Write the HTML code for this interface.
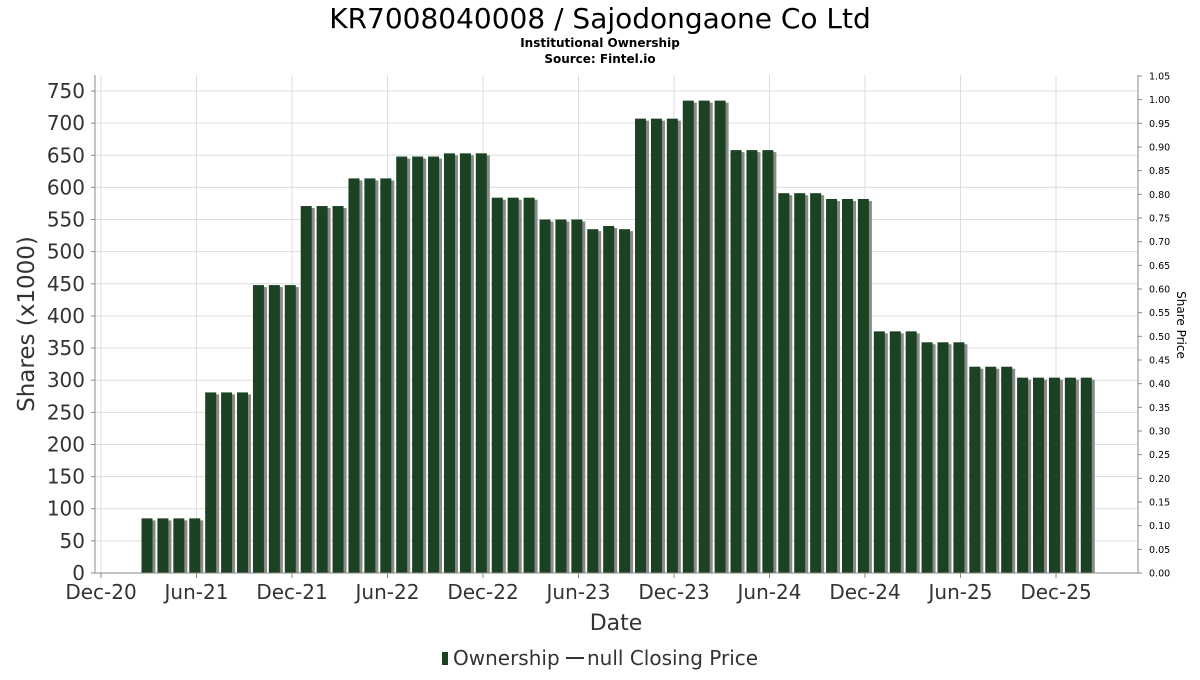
<!DOCTYPE html>
<html><head><meta charset="utf-8"><style>
body{margin:0;background:#fff;}
svg text{font-family:"DejaVu Sans","Liberation Sans",sans-serif;}
</style></head><body>
<svg id="chart" width="1200" height="675" viewBox="0 0 1200 675" xmlns="http://www.w3.org/2000/svg">
<text x="600" y="28" text-anchor="middle" font-size="28" fill="#000">KR7008040008 / Sajodongaone Co Ltd</text>
<text x="600" y="47" text-anchor="middle" font-size="12" font-weight="bold" fill="#000">Institutional Ownership</text>
<text x="600" y="63" text-anchor="middle" font-size="12" font-weight="bold" fill="#000">Source: Fintel.io</text>
<g id="grid"></g>
<g id="bars"></g>
<g id="axes"></g>
<text x="616" y="630" text-anchor="middle" font-size="22" fill="#333">Date</text>
<text transform="translate(34,324) rotate(-90)" text-anchor="middle" font-size="23" fill="#333">Shares (x1000)</text>
<text transform="translate(1177,325) rotate(90)" text-anchor="middle" font-size="12" fill="#000">Share Price</text>
<g>
<rect x="442" y="652" width="6" height="13" fill="#1a4223"/>
<text x="453" y="665" font-size="20" fill="#333">Ownership</text>
<line x1="566" y1="658" x2="584" y2="658" stroke="#333" stroke-width="2"/>
<text x="587" y="665" font-size="20" fill="#333">null Closing Price</text>
</g>
</svg>
<script>
const values = [85,85,85,85,281,281,281,448,448,448,571,571,571,614,614,614,648,648,648,653,653,653,584,584,584,550,550,550,535,540,535,707,707,707,735,735,735,658,658,658,591,591,591,582,582,582,376,376,376,359,359,359,321,321,321,304,304,304,304,304];
const leftTicks = [0,50,100,150,200,250,300,350,400,450,500,550,600,650,700,750];
const rightTicks = ["0.00","0.05","0.10","0.15","0.20","0.25","0.30","0.35","0.40","0.45","0.50","0.55","0.60","0.65","0.70","0.75","0.80","0.85","0.90","0.95","1.00","1.05"];
const xLabels = ["Dec-20","Jun-21","Dec-21","Jun-22","Dec-22","Jun-23","Dec-23","Jun-24","Dec-24","Jun-25","Dec-25"];

const NS="http://www.w3.org/2000/svg";
const L=95,R=1138,T=75,B=573;
const y=v=>B-(v/750)*482;
const yr=v=>B-(v/1.05)*497;
const xl=i=>101+i*95.5;
const xb=i=>141.5+i*15.92;
function mk(tag,attrs,parent){const e=document.createElementNS(NS,tag);for(const k in attrs)e.setAttribute(k,attrs[k]);parent.appendChild(e);return e;}
const grid=document.getElementById('grid'),bars=document.getElementById('bars'),axes=document.getElementById('axes');
mk('rect',{x:L,y:T,width:R-L,height:B-T,fill:'#fff'},grid);
leftTicks.forEach(v=>{
  const g=mk('line',{x1:L,x2:R,y1:y(v),y2:y(v),stroke:'#ddd','stroke-width':1},grid);
  
  
  const t=mk('text',{x:L-10,y:y(v)+7,'text-anchor':'end','font-size':20,fill:'#333'},axes);
  t.textContent=v;
  
  
  mk('line',{x1:L-4,x2:L,y1:y(v),y2:y(v),stroke:'#888'},axes);
});
xLabels.forEach((s,i)=>{
  const x=xl(i);
  mk('line',{x1:x,x2:x,y1:T,y2:B,stroke:'#ddd'},grid);
  mk('line',{x1:x,x2:x,y1:B,y2:B+5,stroke:'#888'},axes);
  const t=mk('text',{x:x,y:599,'text-anchor':'middle','font-size':20,fill:'#333'},axes);
  t.textContent=s;
  
  
});
rightTicks.forEach(s=>{
  const v=parseFloat(s);
  mk('line',{x1:R,x2:R+4,y1:yr(v),y2:yr(v),stroke:'#888'},axes);
  const t=mk('text',{x:R+11,y:yr(v)+3.5,'font-size':9.5,fill:'#000'},axes);
  t.textContent=s;
  
  
});
values.forEach((v,i)=>{
  const x=xb(i);
  mk('rect',{x:x+3,y:y(v)+2,width:11,height:B-y(v)-2,fill:'#8a8a8a'},bars);
  const r=mk('rect',{x:x,y:y(v),width:11,height:B-y(v),fill:'#1a4223'},bars);
  
  
});
mk('line',{x1:L,x2:L,y1:T,y2:B,stroke:'#888'},axes);
mk('line',{x1:R,x2:R,y1:T,y2:B,stroke:'#888'},axes);
mk('line',{x1:L,x2:R,y1:B,y2:B,stroke:'#888'},axes);
</script>
</body></html>
